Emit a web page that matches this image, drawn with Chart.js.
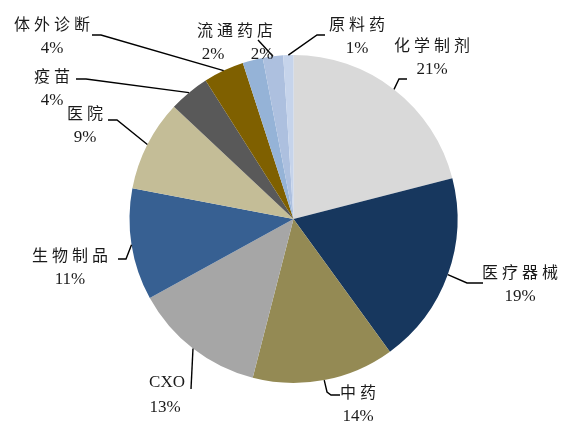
<!DOCTYPE html>
<html>
<head>
<meta charset="utf-8">
<script src="https://cdn.jsdelivr.net/npm/chart.js@4"></script>
<style>
  html, body { margin: 0; padding: 0; background: #fff; }
  #wrap { width: 576px; height: 429px; }
</style>
</head>
<body>
<div id="wrap"><canvas id="pieChart"></canvas></div>
<script>
// data
var categories = ["化学制剂", "医疗器械", "中药", "CXO", "生物制品", "医院", "疫苗", "体外诊断", "", "流通药店", "原料药"];
var shares = [21, 19, 14, 13, 11, 9, 4, 4, 2, 2, 1];
var sliceColors = ['#d9d9d9', '#17375e', '#948a54', '#a6a6a6', '#376092', '#c4bd97',
                   '#595959', '#7f6000', '#95b3d7', '#adc0df', '#c6d4eb'];

// where each label sits (centre of name line) and the bend points of its leader line
var labelSpots = [
  { x: 432, y: 45,  leader: [[399, 79], [407, 79]] },
  { x: 520, y: 272, leader: [[467, 283], [483, 283]] },
  { x: 358, y: 392, leader: [[327, 392], [331, 395], [340, 395]] },
  { x: 165, y: 383, leader: [[191, 389]] },
  { x: 70,  y: 255, leader: [[126, 259], [118, 259]] },
  { x: 85,  y: 113, leader: [[117, 120], [108, 120]] },
  { x: 52,  y: 76,  leader: [[86, 79], [76, 79]] },
  { x: 52,  y: 24,  leader: [[101, 35], [92, 35]] },
  { x: 213, y: 30,  leader: null },
  { x: 235, y: 30,  leader: [[258, 40]] },
  { x: 357, y: 24,  leader: [[317, 35], [325, 35]] }
];

var cjkFont = '16px "Noto Sans CJK SC", serif';
var numFont = '17px "Liberation Serif", serif';

var calloutPlugin = {
  id: 'callouts',
  afterDatasetsDraw: function(chart) {
    var ctx = chart.ctx;
    var arcs = chart.getDatasetMeta(0).data;
    ctx.save();
    ctx.strokeStyle = '#000';
    ctx.lineWidth = 1.4;
    ctx.fillStyle = '#1a1a1a';
    ctx.textAlign = 'center';
    ctx.textBaseline = 'middle';
    arcs.forEach(function(arc, i) {
      var spot = labelSpots[i];
      var mid = (arc.startAngle + arc.endAngle) / 2;
      var sx = arc.x + Math.cos(mid) * arc.outerRadius;
      var sy = arc.y + Math.sin(mid) * arc.outerRadius;
      if (spot.leader) {
        ctx.beginPath();
        ctx.moveTo(sx, sy);
        spot.leader.forEach(function(p) { ctx.lineTo(p[0], p[1]); });
        ctx.stroke();
      }
      var pct = shares[i] + '%';
      var pctX = spot.x;
      if (i === 9) pctX = spot.x + 27;
      if (categories[i]) {
        if (/[A-Z]/.test(categories[i])) {
          ctx.font = numFont;
          ctx.letterSpacing = '0px';
        } else {
          ctx.font = cjkFont;
          ctx.letterSpacing = '4px';
        }
        ctx.fillText(categories[i], spot.x + 2, spot.y);
      }
      ctx.font = numFont;
      ctx.letterSpacing = '0px';
      ctx.fillText(pct, pctX, spot.y + 25);
    });
    ctx.restore();
  }
};

var ctx = document.getElementById('pieChart').getContext('2d');

var data = {
  labels: categories,
  datasets: [
    {
      data: shares,
      backgroundColor: sliceColors,
      borderWidth: 0
    }
  ]
};

var options = {
  responsive: true,
  maintainAspectRatio: false,
  animation: false,
  layout: {
    padding: { left: 129, right: 118, top: 55, bottom: 46 }
  },
  plugins: {
    legend: { display: false },
    tooltip: { enabled: false }
  }
};

var myPieChart = new Chart(ctx, {
  type: 'pie',
  data: data,
  options: options,
  plugins: [calloutPlugin]
});
</script>
</body>
</html>
